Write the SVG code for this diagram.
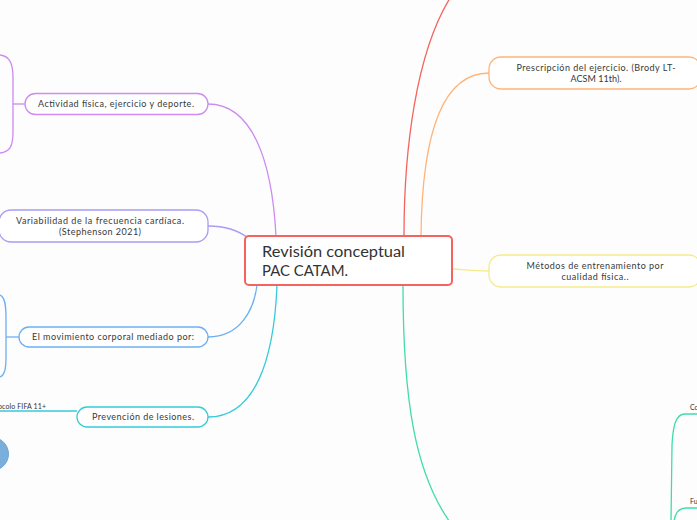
<svg xmlns="http://www.w3.org/2000/svg" width="697" height="520" viewBox="0 0 697 520">
<style>
.bg{fill:#fdfdfd}
.node{fill:#ffffff;stroke-width:1.3}
.t{font-family:Lato,"Noto Sans",sans-serif;font-size:9px;fill:#383838;text-anchor:middle}
.ts{font-family:Lato,"Noto Sans",sans-serif;font-size:7px;fill:#333}
.tc{font-family:Lato,"Noto Sans",sans-serif;font-size:15.5px;fill:#333}
.c{fill:none;stroke-width:1.3}
.purple{stroke:#cd8cef}
.lav{stroke:#a89cf5}
.blue{stroke:#6cb0f3}
.cyan{stroke:#35cbd8}
.red{stroke:#f5635e}
.orange{stroke:#ffb47a}
.yellow{stroke:#f6ea8c}
.green{stroke:#40dcaa}
</style>
<rect class="bg" x="0" y="0" width="697" height="520"/>
<g id="connectors">
  <path class="c purple" d="M208,104 C252,104 272,160 276,236"/>
  <path class="c purple" d="M0,55 C10,56 13,64 13,78 L13,132 C13,146 10,152 0,153"/>
  <path class="c purple" d="M13,104 L25,104"/>
  <path class="c lav" d="M208,226 C226,226 238,230 248,238"/>
  <path class="c blue" d="M208,337 C240,337 254,310 257,285"/>
  <path class="c blue" d="M0,295 C5,297 6,305 6,318 L6,356 C6,368 5,375 0,377"/>
  <path class="c blue" d="M6,337 L19,337"/>
  <path class="c cyan" d="M208,417 C255,417 274,360 277,285"/>
  <path class="c cyan" d="M0,411 L77,411"/>
  <path class="c red" d="M404,236 C404,150 416,50 452,-5"/>
  <path class="c orange" d="M421,236 C422,140 440,73 489,73"/>
  <path class="c yellow" d="M452,269 C468,270 476,271 489,271"/>
  <path class="c green" d="M403,285 C403,400 415,475 452,525"/>
  <path class="c green" d="M697,414 L685,414 C676,414 673,425 672,445 L671,522"/>
  <path class="c green" d="M697,508 L686,508 C679,508 675,513 674,522"/>
</g>
<g id="central">
  <rect x="245" y="236" width="207" height="49" rx="4" fill="#fff" stroke="#f5635e" stroke-width="2"/>
  <text class="tc" x="262" y="257" textLength="143" lengthAdjust="spacingAndGlyphs">Revisión conceptual</text>
  <text class="tc" x="262" y="276" textLength="86" lengthAdjust="spacingAndGlyphs">PAC CATAM.</text>
</g>
<g id="n-actividad">
  <rect class="node purple" x="25" y="93.5" width="183" height="21" rx="10.5"/>
  <text class="t" x="116" y="107" textLength="156">Actividad física, ejercicio y deporte.</text>
</g>
<g id="n-variabilidad">
  <rect class="node lav" x="-1" y="210" width="209" height="32" rx="12"/>
  <text class="t" x="100" y="224" textLength="168">Variabilidad de la frecuencia cardíaca.</text>
  <text class="t" x="100" y="235" textLength="82">(Stephenson 2021)</text>
</g>
<g id="n-movimiento">
  <rect class="node blue" x="19" y="327" width="189" height="20" rx="10"/>
  <text class="t" x="113" y="340" textLength="162">El movimiento corporal mediado por:</text>
</g>
<g id="n-prevencion">
  <rect class="node cyan" x="77" y="407" width="131" height="20" rx="10"/>
  <text class="t" x="143" y="420" textLength="102">Prevención de lesiones.</text>
</g>
<g id="n-fifa">
  <text class="ts" x="-2" y="409" textLength="48">ocolo FIFA 11+</text>
</g>
<g id="n-circle">
  <circle cx="-8" cy="454" r="16.5" fill="#7aaedb" stroke="#6fa6d8" stroke-width="1"/>
</g>
<g id="n-prescripcion">
  <rect class="node orange" x="489" y="57" width="212" height="32" rx="12"/>
  <text class="t" x="596" y="71" textLength="159">Prescripción del ejercicio. (Brody LT-</text>
  <text class="t" x="596" y="82" textLength="51">ACSM 11th).</text>
</g>
<g id="n-metodos">
  <rect class="node yellow" x="489" y="255" width="212" height="32" rx="12"/>
  <text class="t" x="595" y="269" textLength="137">Métodos de entrenamiento por</text>
  <text class="t" x="595" y="280" textLength="67">cualidad física..</text>
</g>
<g id="n-co">
  <text class="ts" x="690" y="410">Co</text>
</g>
<g id="n-fu">
  <text class="ts" x="690" y="504">Fu</text>
</g>
</svg>
